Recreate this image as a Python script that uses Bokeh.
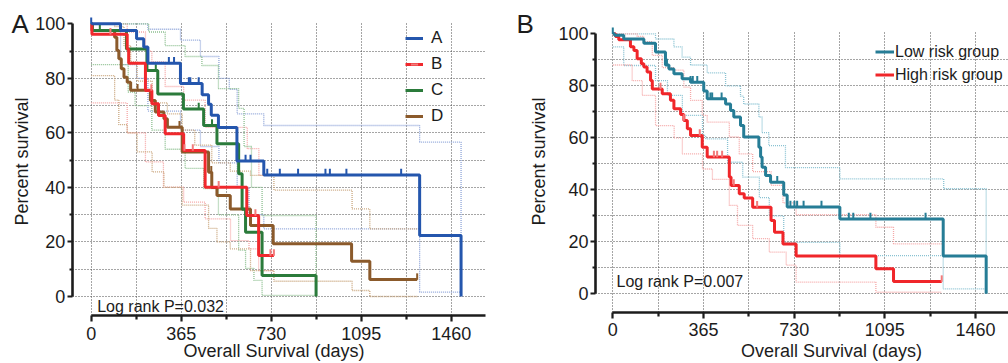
import numpy as np
from bokeh.plotting import figure
from bokeh.layouts import row
from bokeh.models import FixedTicker, Label, Legend, LegendItem, Range1d
from bokeh.embed import file_html
from bokeh.resources import INLINE

# ---------------- Panel A data (days, percent survival) ----------------
groups_A = ["A", "B", "C", "D"]

a_t = [0, 119, 184, 213, 230, 362, 450, 476, 487, 516, 591, 700, 1332, 1500]
a_s = [100, 97.5, 94.5, 91.5, 85.5, 78.1, 74.0, 70.5, 66.5, 62.0, 49.7, 44.6, 22.4, 0]
a_cens = [0, 315, 336, 396, 402, 436, 626, 646, 714, 765, 839, 950, 968, 1035, 1257]
a_up_t = [0, 230, 362, 443, 518, 560, 592, 700, 1332, 1500]
a_up_s = [100, 98, 94, 88, 80, 76, 67, 62.7, 56.6, 1.6]
a_lo_t = [0, 119, 184, 230, 362, 443, 518, 592, 640, 700, 1332, 1500]
a_lo_s = [100, 85, 80, 68, 61, 55, 49, 40, 30, 24.8, 1.6, 1.6]

b_t = [0, 3, 146, 152, 220, 246, 273, 300, 375, 462, 631, 679, 741]
b_s = [100, 96.2, 90.8, 85.5, 75.5, 70.7, 66.4, 59.7, 53.5, 40.1, 29.7, 15, 15]
b_cens = [78, 244, 378, 412, 517, 666, 727, 741]
b_up_t = [0, 146, 220, 246, 300, 375, 462, 633, 680, 741]
b_up_s = [100, 97, 90, 86, 77, 72, 62, 54.2, 44.4, 44.4]
b_lo_t = [0, 146, 220, 293, 375, 462, 565, 640, 679, 741]
b_lo_s = [71, 60, 49.4, 40.1, 34.6, 28.5, 20.5, 17.5, 9.5, 9.5]

c_t = [0, 5, 143, 226, 270, 374, 456, 510, 598, 612, 626, 693, 912]
c_s = [100, 97.5, 90.8, 82.9, 74.3, 68.8, 62.7, 56, 45, 32, 23.6, 7.7, 0]
c_cens = [35, 262, 436, 490]
c_up_t = [0, 233, 300, 381, 449, 516, 598, 620, 650, 693, 912]
c_up_s = [100, 97, 92, 88, 84.7, 76.2, 69, 55, 40, 29.7, 0.4]
c_lo_t = [0, 150, 178, 246, 300, 381, 456, 516, 598, 626, 660, 693, 912]
c_lo_s = [85, 75, 70, 61, 54, 47, 39.6, 29.9, 17, 10.3, 5.9, 0.4, 0.4]

d_t = [0, 3, 95, 104, 112, 122, 133, 146, 160, 240, 260, 295, 309, 369, 476, 489,
       510, 564, 646, 738, 1056, 1130, 1322]
d_s = [100, 97.5, 95.1, 90.2, 87.2, 83.5, 80.4, 78.6, 75.6, 71.9, 67.7, 65.2, 62.1, 53,
       45.6, 40, 37, 32.1, 26, 19.3, 12.9, 6.2, 6.2]
d_cens = [188, 358, 487, 1322]
d_up_t = [0, 95, 133, 160, 186, 247, 309, 369, 420, 489, 564, 646, 741, 1058, 1130, 1322]
d_up_s = [100, 99, 92, 86, 79, 71, 67, 61, 55.5, 49, 46, 44.4, 39, 32.1, 24.8, 24.8]
d_lo_t = [0, 95, 112, 146, 186, 247, 295, 369, 476, 510, 564, 646, 741, 1058, 1130, 1322]
d_lo_s = [81, 72, 63, 60, 53, 45.7, 40, 33.5, 25, 20, 17.5, 9.5, 5.6, 2.2, 0, 0]

# ---------------- Panel B data ----------------
groups_B = ["Low risk group", "High risk group"]

low_t = [0, 7, 44, 125, 172, 212, 226, 246, 279, 313, 366, 380, 454, 474, 487, 514, 527,
         588, 595, 601, 615, 635, 688, 702, 914, 1330, 1503]
low_s = [100, 99.4, 98, 96.4, 93, 88, 86.5, 84.6, 82.7, 81.4, 78, 75, 73, 70.5, 68, 64.7,
         60.3, 56.4, 52.6, 48.7, 45.5, 42.9, 38, 33.4, 28.8, 14.5, 0]
low_cens = [0, 218, 313, 322, 340, 393, 400, 438, 662, 715, 731, 742, 768, 840, 950, 968,
            1037, 1259]
low_up_t = [0, 125, 172, 246, 279, 313, 380, 454, 514, 527, 588, 601, 628, 695, 914, 1332, 1503]
low_up_s = [100, 100, 98, 95, 91, 88, 85, 80, 76, 73, 68, 62, 57, 48.5, 44.2, 40.4, 1.9]
low_lo_t = [0, 44, 172, 220, 280, 361, 374, 462, 523, 590, 630, 688, 914, 1330, 1503]
low_lo_s = [95, 87.8, 82, 76.3, 68.6, 60.9, 59.6, 50.6, 44.9, 37, 30, 19.8, 14.7, 1.9, 1.9]

high_t = [0, 11, 24, 71, 85, 98, 115, 125, 138, 152, 159, 199, 232, 246, 273, 286, 300, 313,
          360, 380, 469, 476, 509, 529, 563, 637, 651, 685, 738, 1059, 1130, 1324]
high_s = [100, 99, 97.7, 95, 93.6, 90.4, 88.5, 87.2, 85.3, 82, 78.8, 76.9, 74.4, 71.2, 69,
          66.7, 63.5, 60.9, 56.4, 52.6, 44.9, 41.7, 38.5, 36.8, 33.3, 28.2, 23.7, 19.2, 14.5,
          9.6, 4.7, 4.7]
high_cens = [192, 286, 350, 407, 420, 440, 487, 581, 1324]
high_up_t = [0, 44, 98, 125, 159, 199, 246, 286, 313, 360, 380, 469, 509, 563, 637, 685, 738,
             1059, 1130, 1324]
high_up_s = [100, 100, 99, 97, 91.7, 87, 86, 79.5, 74.4, 68.6, 66, 60.3, 53.8, 47, 41.7, 35,
             30.4, 25.6, 19.2, 19.2]
high_lo_t = [0, 78, 119, 172, 247, 280, 361, 401, 469, 502, 563, 630, 698, 738, 1059, 1324]
high_lo_s = [88, 82, 76.3, 64.7, 60, 53.8, 48, 44, 34, 26.3, 21.2, 16, 11, 4.5, 0.6, 0.6]

# ---------------- ticks / texts ----------------
x_major = [0, 365, 730, 1095, 1460]
x_minor = [182.5, 547.5, 912.5, 1277.5]
x_grid = [0, 182.5, 365, 547.5, 730, 912.5, 1095, 1277.5, 1460]
y_major = [0, 20, 40, 60, 80, 100]
y_minor = [10, 30, 50, 70, 90]
y_grid = [0, 10, 20, 30, 40, 50, 60, 70, 80, 90]

x_title = "Overall Survival (days)"
y_title = "Percent survival"

FONT = "Liberation Sans"
INK = "#1c1c1c"
H = 363


def lookup(times, surv, pts):
    idx = np.searchsorted(np.asarray(times, float), np.asarray(pts, float), side="right") - 1
    return np.asarray(surv, float)[idx]


def base(width, g):
    """g: pixel geometry of the panel (position of day 0 / value 0, scales, axis lines)."""
    x0, dpx, y0, vpx = g["x0"], g["dpx"], g["y0"], g["vpx"]
    xr = (-x0 / dpx, (width - x0) / dpx)
    yr = ((y0 - H) / vpx, y0 / vpx)
    p = figure(width=width, height=H, output_backend="svg", toolbar_location=None,
               x_range=Range1d(*xr), y_range=Range1d(*yr),
               min_border_left=0, min_border_right=0, min_border_top=0, min_border_bottom=0)
    p.outline_line_color = None
    p.border_fill_color = "white"
    p.background_fill_color = "white"
    ya_loc = (g["axis_x"] - x0) / dpx
    xa_loc = (y0 - g["axis_y"]) / vpx
    x_end = (g["right"] - x0) / dpx
    y_top = (y0 - g["grid_top"]) / vpx
    xa, ya = p.xaxis[0], p.yaxis[0]
    for ax in (xa, ya):
        ax.axis_line_width = 2.6
        ax.axis_line_color = INK
        ax.major_tick_line_width = 2.2
        ax.minor_tick_line_width = 2.2
        ax.major_tick_line_color = INK
        ax.minor_tick_line_color = INK
        ax.major_tick_in = 0
        ax.minor_tick_in = 0
        ax.major_label_text_font = FONT
        ax.major_label_text_font_size = "18px"
        ax.major_label_text_color = INK
    xa.major_label_standoff = 5
    ya.major_label_standoff = 2
    xa.ticker = FixedTicker(ticks=x_major, minor_ticks=x_minor)
    ya.ticker = FixedTicker(ticks=y_major, minor_ticks=y_minor)
    xa.fixed_location = xa_loc
    ya.fixed_location = ya_loc
    xa.bounds = (0, x_end)
    ya.bounds = (0, 100)
    xa.major_tick_out = 6
    xa.minor_tick_out = 4
    ya.major_tick_out = 5
    ya.minor_tick_out = 3
    p.xgrid.ticker = FixedTicker(ticks=x_grid)
    p.ygrid.ticker = FixedTicker(ticks=y_grid)
    for gr in (p.xgrid[0], p.ygrid[0]):
        gr.grid_line_color = "#4a4a4a"
        gr.grid_line_dash = "1 2"
        gr.grid_line_width = 1
    p.xgrid[0].cross_bounds = (xa_loc, y_top)
    p.ygrid[0].cross_bounds = (ya_loc, x_end)
    return p


def draw(p, series, tick_h, tick_size):
    for s in series:
        p.step(s["up_t"], s["up_s"], mode="after", line_color=s["ci"], line_width=1.3,
               line_dash="1 1")
        p.step(s["lo_t"], s["lo_s"], mode="after", line_color=s["ci"], line_width=1.3,
               line_dash="1 1")
    rend = {}
    for s in reversed(series):
        ln = p.step(s["t"], s["s"], mode="after", line_color=s["color"], line_width=3)
        ty = lookup(s["t"], s["s"], s["cens"]) + tick_h / 2.0
        tk = p.scatter(s["cens"], ty, marker="dash", angle=np.pi / 2, size=tick_size,
                       line_color=s["tick"], line_width=2)
        rend[s["name"]] = (ln, tk)
    return rend


def add_label(p, text, x, y_from_top, size, angle=0.0, align="left", baseline="alphabetic"):
    p.add_layout(Label(x=x, y=H - y_from_top, x_units="screen", y_units="screen", text=text,
                       angle=angle, text_font=FONT, text_font_size=size, text_color=INK,
                       text_align=align, text_baseline=baseline))


# ---------------- Panel A ----------------
geomA = dict(x0=90.7, dpx=90 / 365, y0=296, vpx=2.727, axis_x=71.7, axis_y=315,
             grid_top=21.7, right=485)
pA = base(505, geomA)
seriesA = [
    dict(name="A", t=a_t, s=a_s, cens=a_cens, up_t=a_up_t, up_s=a_up_s, lo_t=a_lo_t, lo_s=a_lo_s,
         color="#2456ad", tick="#2456ad", ci="#8fa5d9"),
    dict(name="B", t=b_t, s=b_s, cens=b_cens, up_t=b_up_t, up_s=b_up_s, lo_t=b_lo_t, lo_s=b_lo_s,
         color="#f0282d", tick="#f27c7c", ci="#f5a6a6"),
    dict(name="C", t=c_t, s=c_s, cens=c_cens, up_t=c_up_t, up_s=c_up_s, lo_t=c_lo_t, lo_s=c_lo_s,
         color="#2b7b3b", tick="#2b7b3b", ci="#8cbf8f"),
    dict(name="D", t=d_t, s=d_s, cens=d_cens, up_t=d_up_t, up_s=d_up_s, lo_t=d_lo_t, lo_s=d_lo_s,
         color="#8b5a2b", tick="#8b5a2b", ci="#caa77f"),
]
rA = draw(pA, seriesA, 2.2, 6.5)
legA = Legend(items=[LegendItem(label=g, renderers=[rA[g][0], rA[g][1]]) for g in groups_A],
              location=(405, H - 126), padding=0, margin=0, spacing=6, glyph_width=18,
              glyph_height=20, label_height=20, label_standoff=8,
              label_text_font=FONT, label_text_font_size="17px", label_text_color=INK,
              background_fill_alpha=0, border_line_color=None)
pA.add_layout(legA)
add_label(pA, "A", 11, 23, "26px")
add_label(pA, x_title, 273.5, 350.5, "18px", align="center")
add_label(pA, y_title, 21, 161, "18px", angle=np.pi / 2, align="center", baseline="middle")
add_label(pA, "Log rank P=0.032", 96.7, 305.8, "16px")

# ---------------- Panel B ----------------
geomB = dict(x0=107.3, dpx=362.7 / 1460, y0=293.3, vpx=2.6, axis_x=90, axis_y=311.7,
             grid_top=32, right=503)
pB = base(503, geomB)
seriesB = [
    dict(name="Low risk group", t=low_t, s=low_s, cens=low_cens, up_t=low_up_t, up_s=low_up_s,
         lo_t=low_lo_t, lo_s=low_lo_s, color="#267d96", tick="#267d96", ci="#89c2d2"),
    dict(name="High risk group", t=high_t, s=high_s, cens=high_cens, up_t=high_up_t,
         up_s=high_up_s, lo_t=high_lo_t, lo_s=high_lo_s, color="#f0262a", tick="#f27a7a",
         ci="#f5a8a8"),
]
rB = draw(pB, seriesB, 2.3, 6.5)
legB = Legend(items=[LegendItem(label=g, renderers=[rB[g][0]]) for g in groups_B],
              location=(370, H - 84), padding=0, margin=0, spacing=4, glyph_width=19,
              glyph_height=19, label_height=19, label_standoff=1,
              label_text_font=FONT, label_text_font_size="16px", label_text_color=INK,
              background_fill_alpha=0, border_line_color=None)
pB.add_layout(legB)
add_label(pB, "B", 11, 23, "26px")
add_label(pB, x_title, 326, 350.5, "18px", align="center")
add_label(pB, y_title, 33, 161, "18px", angle=np.pi / 2, align="center", baseline="middle")
add_label(pB, "Log rank P=0.007", 111, 280.5, "16px")

layout = row(pA, pB)
open("out.html", "w").write(file_html(layout, INLINE, title="Kaplan-Meier survival"))
